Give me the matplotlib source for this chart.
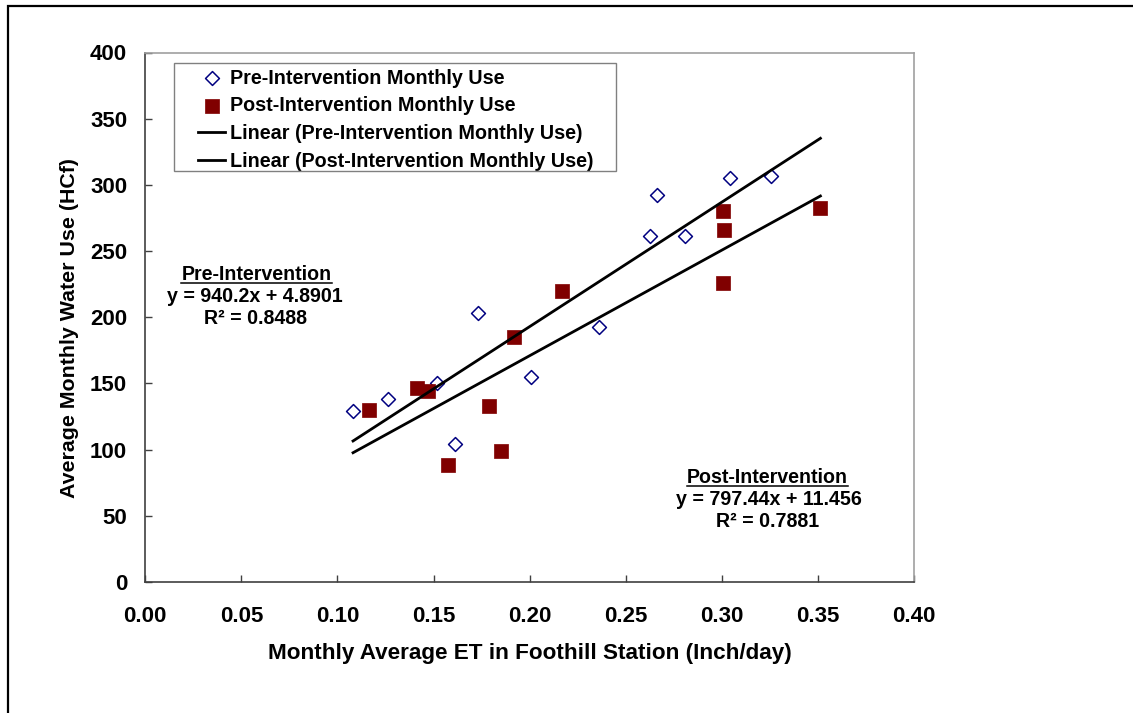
import matplotlib
matplotlib.use("Agg")
import matplotlib.pyplot as plt
from matplotlib.patches import Rectangle
from matplotlib.lines import Line2D
import numpy as np

# ---------------- data ----------------
pre_et = [0.1081, 0.1265, 0.1518, 0.1614, 0.1731, 0.2007, 0.2362, 0.2624, 0.2664, 0.2809, 0.3045, 0.3257]
pre_use = [129.0, 138.1, 150.7, 104.4, 203.2, 155.2, 192.9, 261.1, 292.5, 261.1, 305.4, 306.9]
post_et = [0.1163, 0.1416, 0.1471, 0.1575, 0.1788, 0.1851, 0.1918, 0.2166, 0.3005, 0.3012, 0.3005, 0.3513]
post_use = [130.3, 146.6, 144.1, 88.1, 132.8, 98.8, 185.4, 219.8, 280.2, 266.1, 225.6, 282.7]
pre_fit = [940.2, 4.8901]      # slope, intercept
post_fit = [797.44, 11.456]
pre_r2 = 0.8488
post_r2 = 0.7881
x_ticks = [0.00, 0.05, 0.10, 0.15, 0.20, 0.25, 0.30, 0.35, 0.40]
y_ticks = [0, 50, 100, 150, 200, 250, 300, 350, 400]
series_labels = ["Pre-Intervention Monthly Use", "Post-Intervention Monthly Use",
                 "Linear (Pre-Intervention Monthly Use)", "Linear (Post-Intervention Monthly Use)"]
x_label = "Monthly Average ET in Foothill Station (Inch/day)"
y_label = "Average Monthly Water Use (HCf)"

# ---------------- figure ----------------
W, H = 1133, 713
plt.rcParams['font.family'] = ['Liberation Sans', 'DejaVu Sans']
plt.rcParams['font.weight'] = 'bold'
fig = plt.figure(figsize=(W / 100, H / 100), dpi=100)

def fx(px):
    return px / W

def fy(py):
    return 1 - py / H

AX_L, AX_R, AX_T, AX_B = 145.3, 914.0, 52.5, 582.0
ax = fig.add_axes([fx(AX_L), fy(AX_B), fx(AX_R) - fx(AX_L), fy(AX_T) - fy(AX_B)])

ax.scatter(pre_et, pre_use, marker='D', s=50,
           facecolors='white', edgecolors='#000080', linewidths=1.1, zorder=3,
           label=series_labels[0])
ax.scatter(post_et, post_use, marker='s', s=10.5 ** 2,
           facecolors='#800000', edgecolors='#800000', linewidths=0.5, zorder=3,
           label=series_labels[1])

all_x = np.array(pre_et + post_et)
xl = np.array([all_x.min(), all_x.max()])
ax.plot(xl, pre_fit[0] * xl + pre_fit[1], color='black', lw=2.0, zorder=4,
        label=series_labels[2])
ax.plot(xl, post_fit[0] * xl + post_fit[1], color='black', lw=2.0, zorder=4,
        label=series_labels[3])

ax.set_xlim(0, 0.40)
ax.set_ylim(0, 400)
ax.set_xticks(x_ticks)
ax.set_xticklabels([f"{v:.2f}" for v in x_ticks])
ax.set_yticks(y_ticks)
ax.set_yticklabels([str(v) for v in y_ticks])
ax.tick_params(axis='both', direction='in', length=5, width=1.0, color='#404040',
               labelsize=16)
ax.tick_params(axis='x', pad=17)
ax.tick_params(axis='y', pad=13)
for t in ax.get_xticklabels() + ax.get_yticklabels():
    t.set_fontweight('bold')

for s in ['left', 'bottom']:
    ax.spines[s].set_color('#404040')
    ax.spines[s].set_linewidth(1.2)
for s in ['top', 'right']:
    ax.spines[s].set_color('#a0a0a0')
    ax.spines[s].set_linewidth(1.2)

ax.set_xlabel(x_label, fontsize=16.2, fontweight='bold')
ax.set_ylabel(y_label, fontsize=15.4, fontweight='bold')
axw, axh = AX_R - AX_L, AX_B - AX_T
ax.xaxis.set_label_coords((530 - AX_L) / axw, -(643.5 - AX_B) / axh)
ax.yaxis.set_label_coords(-(AX_L - 79.5) / axw, (AX_B - 328.5) / axh)

# legend (frame drawn separately)
leg = ax.legend(loc='upper left', bbox_to_anchor=(fx(198), fy(68.5)),
                bbox_transform=fig.transFigure, frameon=False, borderpad=0,
                borderaxespad=0, handlelength=1.37, handletextpad=0.26,
                labelspacing=0.44, prop={'size': 14.2, 'weight': 'bold'})
fig.add_artist(Rectangle((fx(174), fy(171)), fx(616) - fx(174), fy(63) - fy(171),
                         transform=fig.transFigure, fill=False,
                         edgecolor='#808080', lw=1.0))

# equation annotations
FS = 14.1
t1 = fig.text(fx(256.5), fy(280), "Pre-Intervention", ha='center', va='baseline',
              fontsize=FS, fontweight='bold')
fig.text(fx(255), fy(301.5), f"y = {pre_fit[0]}x + {pre_fit[1]}", ha='center',
         va='baseline', fontsize=FS, fontweight='bold')
fig.text(fx(255.5), fy(324), f"R\u00b2 = {pre_r2}", ha='center', va='baseline',
         fontsize=FS, fontweight='bold')
t2 = fig.text(fx(767.5), fy(483.3), "Post-Intervention", ha='center', va='baseline',
              fontsize=FS, fontweight='bold')
fig.text(fx(768.5), fy(505), f"y = {post_fit[0]}x + {post_fit[1]}", ha='center',
         va='baseline', fontsize=FS, fontweight='bold')
fig.text(fx(768), fy(526.7), f"R\u00b2 = {post_r2}", ha='center', va='baseline',
         fontsize=FS, fontweight='bold')

fig.canvas.draw()
r = fig.canvas.get_renderer()
for t, uy in [(t1, 283), (t2, 486.2)]:
    bb = t.get_window_extent(r)
    fig.add_artist(Line2D([bb.x0 / W, bb.x1 / W], [fy(uy), fy(uy)],
                          transform=fig.transFigure, color='black', lw=1.1))

# outer border
fig.add_artist(Rectangle((fx(8), -0.1), 1.2, fy(6) + 0.1, transform=fig.transFigure,
                         fill=False, edgecolor='black', lw=1.6, clip_on=False))

fig.savefig("out.png", dpi=100)
